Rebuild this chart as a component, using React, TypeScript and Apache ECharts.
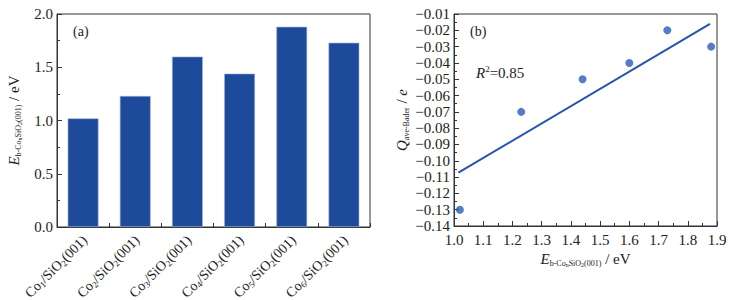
import React, { useEffect, useRef } from "react";
import * as echarts from "echarts";

const categories = ["1", "2", "3", "4", "5", "6"];
const bindingEnergy = [1.02, 1.23, 1.6, 1.44, 1.88, 1.73];
const baderCharge = [-0.13, -0.07, -0.04, -0.05, -0.03, -0.02];
const fitX = [1.015, 1.876];
const fitY = [-0.1073, -0.0161];

const FONT = "'Liberation Serif', 'DejaVu Serif', serif";
const TXT = "#222";

const subRich = {
  a: { fontFamily: FONT, fontSize: 14, color: TXT },
  s: { fontFamily: FONT, fontSize: 9, color: TXT, padding: [7, 0, 0, 0] },
};

const eNameRich = {
  i: { fontFamily: FONT, fontSize: 15, fontStyle: "italic", color: TXT },
  s: { fontFamily: FONT, fontSize: 8, color: TXT, padding: [8, 0, 0, 0] },
  ss: { fontFamily: FONT, fontSize: 6, color: TXT, padding: [12, 0, 0, 0] },
  r: { fontFamily: FONT, fontSize: 15, color: TXT },
};

const fmtMinus = (v: number, d: number) => {
  const s = Math.abs(v).toFixed(d);
  return v < -1e-9 ? "\u2212" + s : s;
};

export default function App() {
  const ref = useRef<HTMLDivElement>(null);
  useEffect(() => {
    const chart = echarts.init(ref.current!, null, { renderer: "svg" });
    const axisLine = { show: true, lineStyle: { color: "#333", width: 1 } };
    chart.setOption({
      animation: false,
      backgroundColor: "#fff",
      textStyle: { fontFamily: FONT },
      grid: [
        { left: 57, right: 361, top: 14, bottom: 73, show: true, borderColor: "#333", borderWidth: 1, containLabel: false, outerBoundsMode: "none" },
        { left: 454, right: 14, top: 14, bottom: 74, show: true, borderColor: "#333", borderWidth: 1, containLabel: false, outerBoundsMode: "none" },
      ],
      xAxis: [
        {
          type: "category",
          gridIndex: 0,
          data: categories,
          axisLine,
          axisTick: { show: true, inside: true, length: 4, lineStyle: { color: "#333" } },
          axisLabel: {
            rotate: 45,
            margin: 9,
            padding: [5, 0, 0, 0],
            fontFamily: FONT,
            formatter: (v: string) => `{a|Co}{s|${v}}{a|/SiO}{s|2}{a|(001)}`,
            rich: subRich,
          },
        },
        {
          type: "value",
          gridIndex: 1,
          min: 1.0,
          max: 1.9,
          interval: 0.1,
          axisLine,
          axisTick: { show: true, inside: true, length: 5, lineStyle: { color: "#333" } },
          minorTick: { show: true, splitNumber: 2, length: 3, lineStyle: { color: "#333" } },
          splitLine: { show: false },
          axisLabel: {
            fontFamily: FONT,
            fontSize: 15,
            color: TXT,
            margin: 6,
            formatter: (v: number) => v.toFixed(1),
          },
          name: "{i|E}{s|b-Co}{ss|n}{s|SiO}{ss|2}{s|(001)}{r| / eV}",
          nameLocation: "middle",
          nameGap: 24,
          nameTextStyle: { fontFamily: FONT, rich: eNameRich },
        },
      ],
      yAxis: [
        {
          type: "value",
          gridIndex: 0,
          min: 0,
          max: 2,
          interval: 0.5,
          axisLine,
          axisTick: { show: true, inside: true, length: 5, lineStyle: { color: "#333" } },
          minorTick: { show: true, splitNumber: 2, length: 3, lineStyle: { color: "#333" } },
          splitLine: { show: false },
          axisLabel: {
            fontFamily: FONT,
            fontSize: 15,
            color: TXT,
            margin: 4,
            formatter: (v: number) => v.toFixed(1),
          },
          name: "{i|E}{s|b-Co}{ss|n}{s|SiO}{ss|2}{s|(001)}{r| / eV}",
          nameLocation: "middle",
          nameRotate: 90,
          nameGap: 34,
          nameTextStyle: { fontFamily: FONT, rich: eNameRich },
        },
        {
          type: "value",
          gridIndex: 1,
          min: -0.14,
          max: -0.01,
          interval: 0.01,
          axisLine,
          axisTick: { show: true, inside: true, length: 5, lineStyle: { color: "#333" } },
          minorTick: { show: true, splitNumber: 2, length: 3, lineStyle: { color: "#333" } },
          splitLine: { show: false },
          axisLabel: {
            fontFamily: FONT,
            fontSize: 15,
            color: TXT,
            margin: 4,
            formatter: (v: number) => fmtMinus(v, 2),
          },
          name: "{i|Q}{s|ave-Bader}{r| / }{i|e}",
          nameLocation: "middle",
          nameRotate: 90,
          nameGap: 44,
          nameTextStyle: { fontFamily: FONT, rich: eNameRich },
        },
      ],
      series: [
        {
          type: "bar",
          xAxisIndex: 0,
          yAxisIndex: 0,
          data: bindingEnergy,
          barWidth: "59%",
          itemStyle: { color: "#1d4a9b", borderColor: "#9fb3dc", borderWidth: 0.6 },
        },
        {
          type: "scatter",
          xAxisIndex: 1,
          yAxisIndex: 1,
          data: bindingEnergy.map((x, i) => [x, baderCharge[i]]),
          symbolSize: 8,
          itemStyle: { color: "#2a5cb5" },
        },
        {
          type: "line",
          xAxisIndex: 1,
          yAxisIndex: 1,
          data: fitX.map((x, i) => [x, fitY[i]]),
          symbol: "none",
          lineStyle: { color: "#2555ad", width: 2 },
        },
      ],
      graphic: [
        {
          type: "text",
          left: 73,
          top: 24,
          style: { text: "(a)", fontFamily: FONT, fontSize: 14, fill: TXT },
        },
        {
          type: "text",
          left: 470,
          top: 24,
          style: { text: "(b)", fontFamily: FONT, fontSize: 14, fill: TXT },
        },
        {
          type: "text",
          left: 476,
          top: 64,
          style: {
            text: "{i|R}{sup|2}{r|=0.85}",
            fontFamily: FONT,
            rich: {
              i: { fontFamily: FONT, fontSize: 15, fontStyle: "italic", fill: TXT },
              sup: { fontFamily: FONT, fontSize: 9, fill: TXT, padding: [0, 0, 8, 0] },
              r: { fontFamily: FONT, fontSize: 15, fill: TXT },
            },
          },
        },
      ],
    });
    return () => chart.dispose();
  }, []);
  return (
    <div
      ref={ref}
      style={{ position: "absolute", left: 0, top: 0, width: 731, height: 300 }}
    />
  );
}
